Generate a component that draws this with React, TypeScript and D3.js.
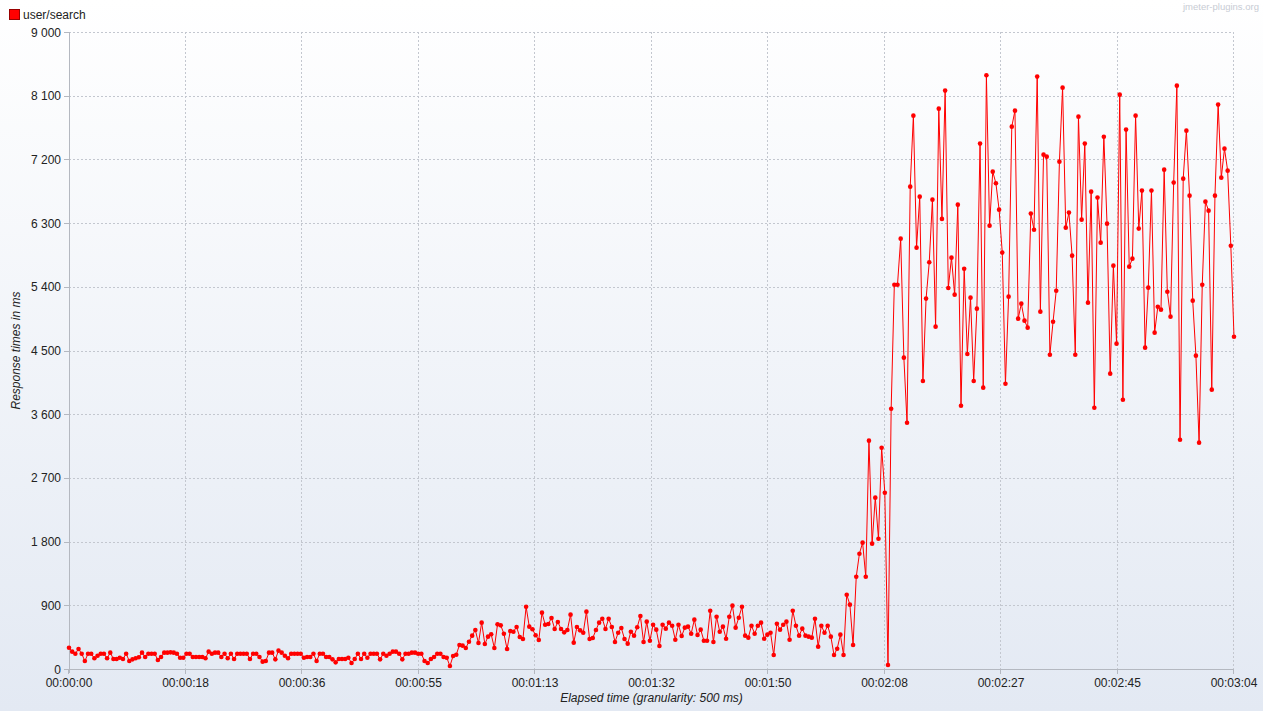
import React from "react";
import * as d3 from "d3";

const SERIES_NAME = "user/search";
const GRANULARITY_MS = 500;

// Response times (ms), one value every 500 ms
const segmentA = [
  301, 245, 216, 283, 216, 113, 216, 216, 151, 188, 216, 216, 151, 231, 141, 141, 160, 141, 216, 113,
  136, 151, 165, 231, 170, 216, 216, 216, 127, 170, 231, 231, 235, 231, 216, 160, 160, 216, 216, 170,
  170, 170, 170, 151, 245, 216, 231, 231, 170, 216, 151, 216, 141, 216, 216, 216, 216, 141, 216,
];
const segmentB = [
  216, 170, 104, 113, 231, 231, 136, 259, 231, 188, 151, 216, 216, 216, 216, 160, 170, 170, 216, 113,
  216, 216, 170, 170, 136, 94, 141, 141, 141, 160, 85, 141, 216, 141, 216, 160, 216, 216, 216, 136,
  216, 188, 216, 245, 245, 216, 136, 216, 216, 231, 231, 216, 216, 113, 85, 141, 170, 216, 216, 170,
  160,
];
const segmentC = [
  42, 184, 202, 339, 330, 297, 386, 471, 551, 367, 655, 353, 457, 490, 297, 631, 617, 499, 283, 537,
  527, 593, 452, 424, 880, 598, 561, 476, 410, 796, 626, 636, 721, 565, 664, 565, 518, 551, 768, 372,
  593, 546, 513, 810, 424, 438, 551, 655, 711, 565, 711, 593, 381, 513, 579, 424, 358, 527, 471, 589,
  749,
];
const segmentD = [
  381, 669, 400, 626, 556, 325, 626, 570, 655, 612, 414, 626, 466, 584, 598, 499, 697, 480, 556, 400,
  400, 824, 381, 739, 527, 598, 428, 739, 895, 584, 725, 880, 471,
];
const segmentE = [
  443, 612, 499, 612, 655, 428, 485, 513, 198, 640, 556, 626, 669, 414, 824, 612, 471, 570, 471, 457,
  443, 711, 316, 612, 513, 612, 457, 198, 287, 485, 198,
];
const segmentF = [
  1050, 909, 339, 1304, 1629, 1785, 1304, 3226, 1771, 2421, 1841, 3127, 2491, 57,
];
const segmentG = [
  3678, 5430, 5430, 6080, 4399, 3480, 6815, 7818, 5953, 6674, 4069, 5233, 5747, 6631, 4837, 7917, 6359,
  8172, 5384, 5812, 5289, 6561, 3720, 5656, 4451, 5247, 4069, 5091, 7423, 3975, 8389, 6264, 7027, 6863,
  6490, 5883, 4031, 5261, 7663, 7889, 4950, 5162, 4922, 4823, 6434, 6207, 8370, 5049, 7267, 7239, 4441,
  4907, 5345, 7168,
];
const segmentH = [
  8214, 6236, 6448, 5840, 4441, 7804, 6349, 7423, 5176, 6744, 3692, 6660, 6024, 7521, 6292, 4173, 5699,
  4597, 8115, 3805, 7621, 5685, 5798, 7818, 6222, 6759, 4540, 5388, 6759, 4752, 5119, 5077, 7055, 5331,
  4978, 6872, 8242, 3240, 6928, 7606, 6688, 5204, 4427, 3198, 5430, 6603, 6476, 3947, 6688, 7974, 6942,
  7352, 7041, 5981, 4695,
];
const responseTimes = [
  ...segmentA, ...segmentB, ...segmentC, ...segmentD, ...segmentE, ...segmentF, ...segmentG, ...segmentH,
];

const yTickValues = [0, 900, 1800, 2700, 3600, 4500, 5400, 6300, 7200, 8100, 9000];
const yTickLabels = ["0", "900", "1 800", "2 700", "3 600", "4 500", "5 400", "6 300", "7 200", "8 100", "9 000"];
const xTickLabels = [
  "00:00:00", "00:00:18", "00:00:36", "00:00:55", "00:01:13", "00:01:32",
  "00:01:50", "00:02:08", "00:02:27", "00:02:45", "00:03:04",
];

const W = 1263;
const H = 711;
const M = { left: 69, right: 1234, top: 32, bottom: 669 };
const FONT = "'Liberation Sans', Arial, sans-serif";

export default function App() {
  const data = responseTimes.map((v, i) => ({ t: i * GRANULARITY_MS, v }));
  const tMax = (responseTimes.length - 1) * GRANULARITY_MS;
  const x = d3.scaleLinear().domain([0, tMax]).range([M.left, M.right]);
  const y = d3.scaleLinear().domain([0, 9000]).range([M.bottom, M.top]);
  const line = d3
    .line<{ t: number; v: number }>()
    .x((d) => x(d.t))
    .y((d) => y(d.v));
  const xTicks = xTickLabels.map((lab, i) => ({ lab, t: (tMax * i) / (xTickLabels.length - 1) }));

  const gridColor = "#c3c7cf";
  const axisColor = "#b4b8c0";

  return (
    <svg
      width={W}
      height={H}
      style={{ position: "absolute", left: 0, top: 0, display: "block" }}
      fontFamily={FONT}
    >
      <defs>
        <linearGradient id="bg" x1="0" y1="0" x2="0" y2="1">
          <stop offset="0%" stopColor="#ffffff" />
          <stop offset="100%" stopColor="#e3e9f3" />
        </linearGradient>
      </defs>
      <rect x={0} y={0} width={W} height={H} fill="url(#bg)" />

      {/* grid */}
      {yTickValues.slice(1).map((v) => (
        <line
          key={"gy" + v}
          x1={M.left}
          x2={M.right}
          y1={Math.round(y(v)) + 0.5}
          y2={Math.round(y(v)) + 0.5}
          stroke={gridColor}
          strokeDasharray="2,2"
        />
      ))}
      {xTicks.slice(1).map((d) => (
        <line
          key={"gx" + d.t}
          x1={Math.round(x(d.t)) - 0.5}
          x2={Math.round(x(d.t)) - 0.5}
          y1={M.top}
          y2={M.bottom}
          stroke={gridColor}
          strokeDasharray="2,2"
        />
      ))}

      {/* axes */}
      <line x1={M.left + 0.5} x2={M.left + 0.5} y1={M.top} y2={M.bottom + 4} stroke={axisColor} />
      <line x1={M.left - 4} x2={M.right} y1={M.bottom + 0.5} y2={M.bottom + 0.5} stroke={axisColor} />
      {yTickValues.map((v, i) => (
        <g key={"yt" + v}>
          <line
            x1={M.left - 5}
            x2={M.left}
            y1={Math.round(y(v)) + 0.5}
            y2={Math.round(y(v)) + 0.5}
            stroke={axisColor}
          />
          <text x={61} y={y(v) + 4.5} textAnchor="end" fontSize={12} fill="#222">
            {yTickLabels[i]}
          </text>
        </g>
      ))}
      {xTicks.map((d) => (
        <g key={"xt" + d.t}>
          <line
            x1={Math.round(x(d.t)) - 0.5}
            x2={Math.round(x(d.t)) - 0.5}
            y1={M.bottom}
            y2={M.bottom + 5}
            stroke={axisColor}
          />
          <text x={x(d.t)} y={687} textAnchor="middle" fontSize={12} fill="#222">
            {d.lab}
          </text>
        </g>
      ))}

      {/* axis titles */}
      <text x={(M.left + M.right) / 2} y={702} textAnchor="middle" fontSize={12} fontStyle="italic" fill="#222">
        Elapsed time (granularity: 500 ms)
      </text>
      <text
        transform={`translate(20,${(M.top + M.bottom) / 2}) rotate(-90)`}
        textAnchor="middle"
        fontSize={12}
        fontStyle="italic"
        fill="#222"
      >
        Response times in ms
      </text>

      {/* series */}
      <path d={line(data) || ""} fill="none" stroke="#ff0000" strokeWidth={1} />
      {data.map((d, i) => (
        <circle key={i} cx={x(d.t)} cy={y(d.v)} r={2.3} fill="#ff0000" />
      ))}

      {/* legend */}
      <rect x={9.5} y={9.5} width={10} height={10} fill="#ff0000" stroke="#990000" />
      <text x={23} y={19} fontSize={12} fill="#222">
        {SERIES_NAME}
      </text>

      {/* watermark */}
      <text x={1259} y={10} textAnchor="end" fontSize={9.5} fill="#c8ccd4">
        jmeter-plugins.org
      </text>
    </svg>
  );
}
